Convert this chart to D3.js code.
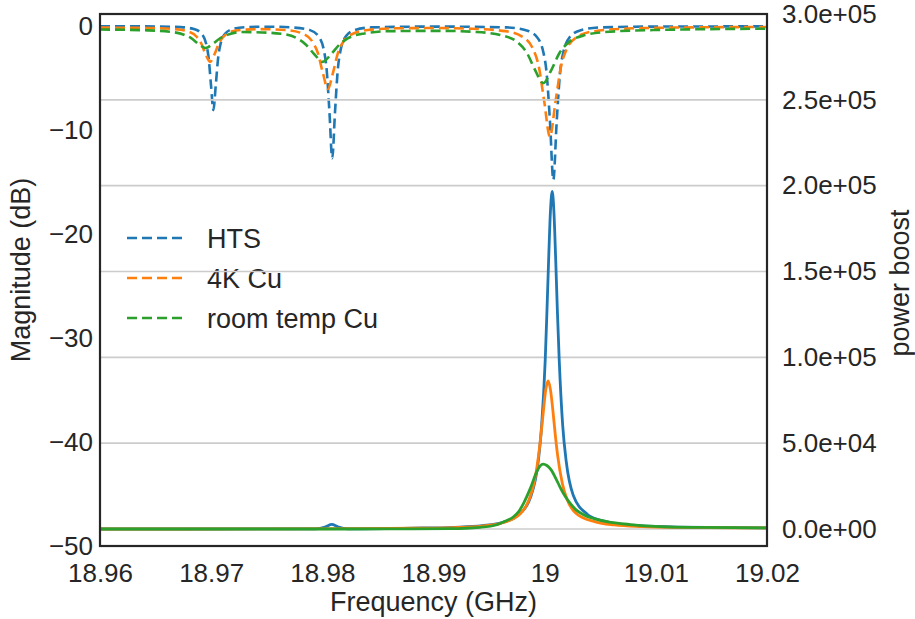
<!DOCTYPE html>
<html>
<head>
<meta charset="utf-8">
<script src="https://cdn.jsdelivr.net/npm/d3@7"></script>
<style>
body { margin: 0; background: #fff; }
text { font-family: "Liberation Sans", Arial, sans-serif; fill: #262626; }
</style>
</head>
<body>
<svg id="chart" width="915" height="619"></svg>
<script>
// ---------- data ----------
const seriesNames = ["HTS", "4K Cu", "room temp Cu"];
const xTicks = [18.96, 18.97, 18.98, 18.99, 19.00, 19.01, 19.02];
const magTicks = [0, -10, -20, -30, -40, -50];
const boostTicks = [0, 50000, 100000, 150000, 200000, 250000, 300000];

// Magnitude (dB), dashed, left axis: [frequency GHz, dB]
const htsMag = [
  [18.96, -0.03], [18.965, -0.05], [18.96726, -0.11], [18.96852, -0.32], [18.96915, -0.76],
  [18.96957, -1.79], [18.96978, -3.14], [18.96999, -5.76], [18.9702, -8.09], [18.97041, -5.76],
  [18.97062, -3.14], [18.97083, -1.79], [18.97125, -0.76], [18.97188, -0.32], [18.97314, -0.11],
  [18.9755, -0.07], [18.97739, -0.15], [18.97889, -0.40], [18.97964, -0.97], [18.98014, -2.34],
  [18.98039, -4.21], [18.98064, -8.28], [18.98089, -12.72], [18.98114, -8.28], [18.98139, -4.21],
  [18.98164, -2.34], [18.98214, -0.97], [18.98289, -0.40], [18.98439, -0.14], [18.99, -0.06],
  [18.99658, -0.14], [18.99838, -0.43], [18.99928, -1.04], [18.99988, -2.52], [19.00018, -4.57],
  [19.00048, -9.23], [19.00078, -14.80], [19.00108, -9.23], [19.00138, -4.57], [19.00168, -2.52],
  [19.00228, -1.04], [19.00318, -0.43], [19.00498, -0.14], [19.01, -0.06], [19.02, -0.04]
];
const cu4kMag = [
  [18.96, -0.16], [18.9643, -0.19], [18.9667, -0.30], [18.9679, -0.52], [18.9687, -1.04],
  [18.9691, -1.66], [18.9695, -2.72], [18.9699, -3.45], [18.9703, -2.72], [18.9707, -1.66],
  [18.9711, -1.04], [18.9719, -0.52], [18.9731, -0.35], [18.9742, -0.30], [18.9769, -0.41],
  [18.97825, -0.75], [18.97915, -1.57], [18.9796, -2.61], [18.98005, -4.53], [18.9805, -6.06],
  [18.98095, -4.53], [18.9814, -2.61], [18.98185, -1.57], [18.98275, -0.75], [18.9841, -0.39],
  [18.9868, -0.22], [18.99, -0.20], [18.99347, -0.27], [18.99647, -0.50], [18.99797, -1.02],
  [18.99897, -2.25], [18.99947, -3.90], [18.99997, -7.32], [19.00047, -10.65], [19.00097, -7.32],
  [19.00147, -3.90], [19.00197, -2.25], [19.00297, -1.02], [19.00447, -0.50], [19.00747, -0.25],
  [19.012, -0.15], [19.02, -0.10]
];
const cuRtMag = [
  [18.96, -0.34], [18.9643, -0.42], [18.96625, -0.55], [18.96755, -0.84], [18.9682, -1.17],
  [18.96885, -1.72], [18.9695, -2.12], [18.97015, -1.72], [18.9708, -1.18], [18.97145, -0.86],
  [18.97275, -0.58], [18.97403, -0.60], [18.97628, -0.75], [18.97778, -1.22], [18.97853, -1.80],
  [18.97928, -2.72], [18.98003, -3.45], [18.98078, -2.72], [18.98153, -1.80], [18.98228, -1.20],
  [18.98378, -0.72], [18.98603, -0.50], [18.9905, -0.47], [18.99387, -0.58], [18.99612, -0.90],
  [18.99762, -1.62], [18.99837, -2.53], [18.99912, -4.19], [18.99987, -5.50], [19.00062, -4.19],
  [19.00137, -2.53], [19.00212, -1.61], [19.00362, -0.88], [19.00587, -0.55], [19.01037, -0.38],
  [19.02, -0.26]
];

// Power boost, solid, right axis: [frequency GHz, boost]
const htsBoost = [
  [18.96, 0], [18.975, 40], [18.979, 80], [18.9798, 400], [18.9803, 1300], [18.98085, 2700],
  [18.9814, 1300], [18.9819, 400], [18.9827, 100], [18.98808, 490], [18.99186, 1000],
  [18.99438, 1950], [18.99627, 3930], [18.99753, 7570], [18.99879, 19700], [18.99942, 39300],
  [18.99973, 60500], [19.00005, 98400], [19.0002, 125900], [19.00036, 157400], [19.00052, 185100],
  [19.00068, 196700], [19.00083, 185100], [19.00099, 157400], [19.00115, 125900], [19.00131, 98400],
  [19.00162, 60500], [19.00194, 39300], [19.00257, 19700], [19.00383, 8600], [19.00509, 5000],
  [19.0063, 3300], [19.0085, 1900], [19.012, 1100], [19.02, 650]
];
const cu4kBoost = [
  [18.96, 0], [18.975, 50], [18.98331, 215], [18.98841, 440], [18.99181, 855], [18.99436, 1730],
  [18.99606, 3320], [18.99776, 8630], [18.99861, 17260], [18.99904, 26550], [18.99946, 43150],
  [18.99967, 55200], [18.99989, 69000], [19.0001, 81200], [19.00031, 86300], [19.00052, 81200],
  [19.00074, 69000], [19.00095, 55200], [19.00116, 43150], [19.00159, 26550], [19.00201, 17260],
  [19.00286, 8900], [19.00456, 4200], [19.00626, 2400], [19.00881, 1400], [19.01221, 900],
  [19.01731, 650], [19.02, 600]
];
const cuRtBoost = [
  [18.96, 0], [18.978, 0], [18.986, 60], [18.9915, 250], [18.9942, 1000], [18.9957, 2500],
  [18.9964, 4400], [18.9972, 7150], [18.9977, 10500], [18.9981, 14900], [18.9987, 23500],
  [18.9993, 33500], [18.9996, 36800], [18.99986, 37800], [19.0002, 37000], [19.0006, 34300],
  [19.001, 29500], [19.00137, 24600], [19.0018, 19500], [19.0023, 14900], [19.0028, 11300],
  [19.0035, 8300], [19.0045, 5900], [19.0056, 4300], [19.0077, 2600], [19.0104, 1400],
  [19.014, 900], [19.02, 600]
];

// ---------- layout / style ----------
const colors = ["#1f77b4", "#ff7f0e", "#2ca02c"];
const L = 100, R = 767, T = 14, B = 546;
const svg = d3.select("#chart");
svg.append("rect").attr("width", 915).attr("height", 619).attr("fill", "#fff");

const x = d3.scaleLinear().domain([18.96, 19.02]).range([L, R]);
const yL = d3.scaleLinear().domain([-50, 1.15]).range([B, T]);
const yR = d3.scaleLinear().domain([-9900, 300000]).range([B, T]);

svg.append("defs").append("clipPath").attr("id", "clip")
  .append("rect").attr("x", L).attr("y", T).attr("width", R - L).attr("height", B - T);

const magG = svg.append("g").attr("clip-path", "url(#clip)");

// dashed magnitude lines
const magLine = d3.line().x(d => x(d[0])).y(d => yL(d[1])).curve(d3.curveMonotoneX);
[htsMag, cu4kMag, cuRtMag].forEach((s, i) => {
  magG.append("path").attr("d", magLine(s)).attr("fill", "none")
    .attr("stroke", colors[i]).attr("stroke-width", 2.6).attr("stroke-dasharray", "10,5");
});

// legend (frameless)
const leg = svg.append("g");
seriesNames.forEach((n, i) => {
  const yy = 238 + i * 40;
  leg.append("line").attr("x1", 127).attr("x2", 183).attr("y1", yy).attr("y2", yy)
    .attr("stroke", colors[i]).attr("stroke-width", 2.6).attr("stroke-dasharray", "10,5");
  leg.append("text").attr("x", 207).attr("y", yy).attr("dy", "0.36em")
    .attr("font-size", 27).text(n);
});

// gridlines of the right axis (drawn above the left-axis content)
const grid = svg.append("g");
boostTicks.forEach(t => {
  grid.append("line").attr("x1", L).attr("x2", R).attr("y1", yR(t)).attr("y2", yR(t))
    .attr("stroke", "#cccccc").attr("stroke-width", 1.6);
});

// solid power boost lines
const boostG = svg.append("g").attr("clip-path", "url(#clip)");
const boostLine = d3.line().x(d => x(d[0])).y(d => yR(d[1])).curve(d3.curveMonotoneX);
[htsBoost, cu4kBoost, cuRtBoost].forEach((s, i) => {
  boostG.append("path").attr("d", boostLine(s)).attr("fill", "none")
    .attr("stroke", colors[i]).attr("stroke-width", 2.8);
});

// axes
function expFmt(v) {
  const s = d3.format(".1e")(v); // e.g. 3.0e+5
  return s.replace(/e([+\-])(\d)$/, "e$10$2");
}
const xAxis = svg.append("g").attr("transform", `translate(0,${B})`)
  .call(d3.axisBottom(x).tickValues(xTicks).tickSize(0).tickPadding(18)
    .tickFormat(d => String(+d.toFixed(2))));
const lAxis = svg.append("g").attr("transform", `translate(${L},0)`)
  .call(d3.axisLeft(yL).tickValues(magTicks).tickSize(0).tickPadding(7));
const rAxis = svg.append("g").attr("transform", `translate(${R},0)`)
  .call(d3.axisRight(yR).tickValues(boostTicks).tickSize(0).tickPadding(15).tickFormat(expFmt));
[xAxis, lAxis, rAxis].forEach(a => {
  a.select(".domain").remove();
  a.attr("font-family", null).attr("font-size", null);
  a.selectAll("text").attr("font-size", 26).attr("fill", "#262626");
});

// axis labels
svg.append("text").attr("x", (L + R) / 2).attr("y", 611).attr("text-anchor", "middle")
  .attr("font-size", 27).text("Frequency (GHz)");
svg.append("text").attr("transform", "translate(30,270) rotate(-90)").attr("text-anchor", "middle")
  .attr("font-size", 27).text("Magnitude (dB)");
svg.append("text").attr("transform", "translate(909,283) rotate(-90)").attr("text-anchor", "middle")
  .attr("font-size", 27).text("power boost");

// spines
svg.append("rect").attr("x", L).attr("y", T).attr("width", R - L).attr("height", B - T)
  .attr("fill", "none").attr("stroke", "#262626").attr("stroke-width", 2.2);
</script>
</body>
</html>
